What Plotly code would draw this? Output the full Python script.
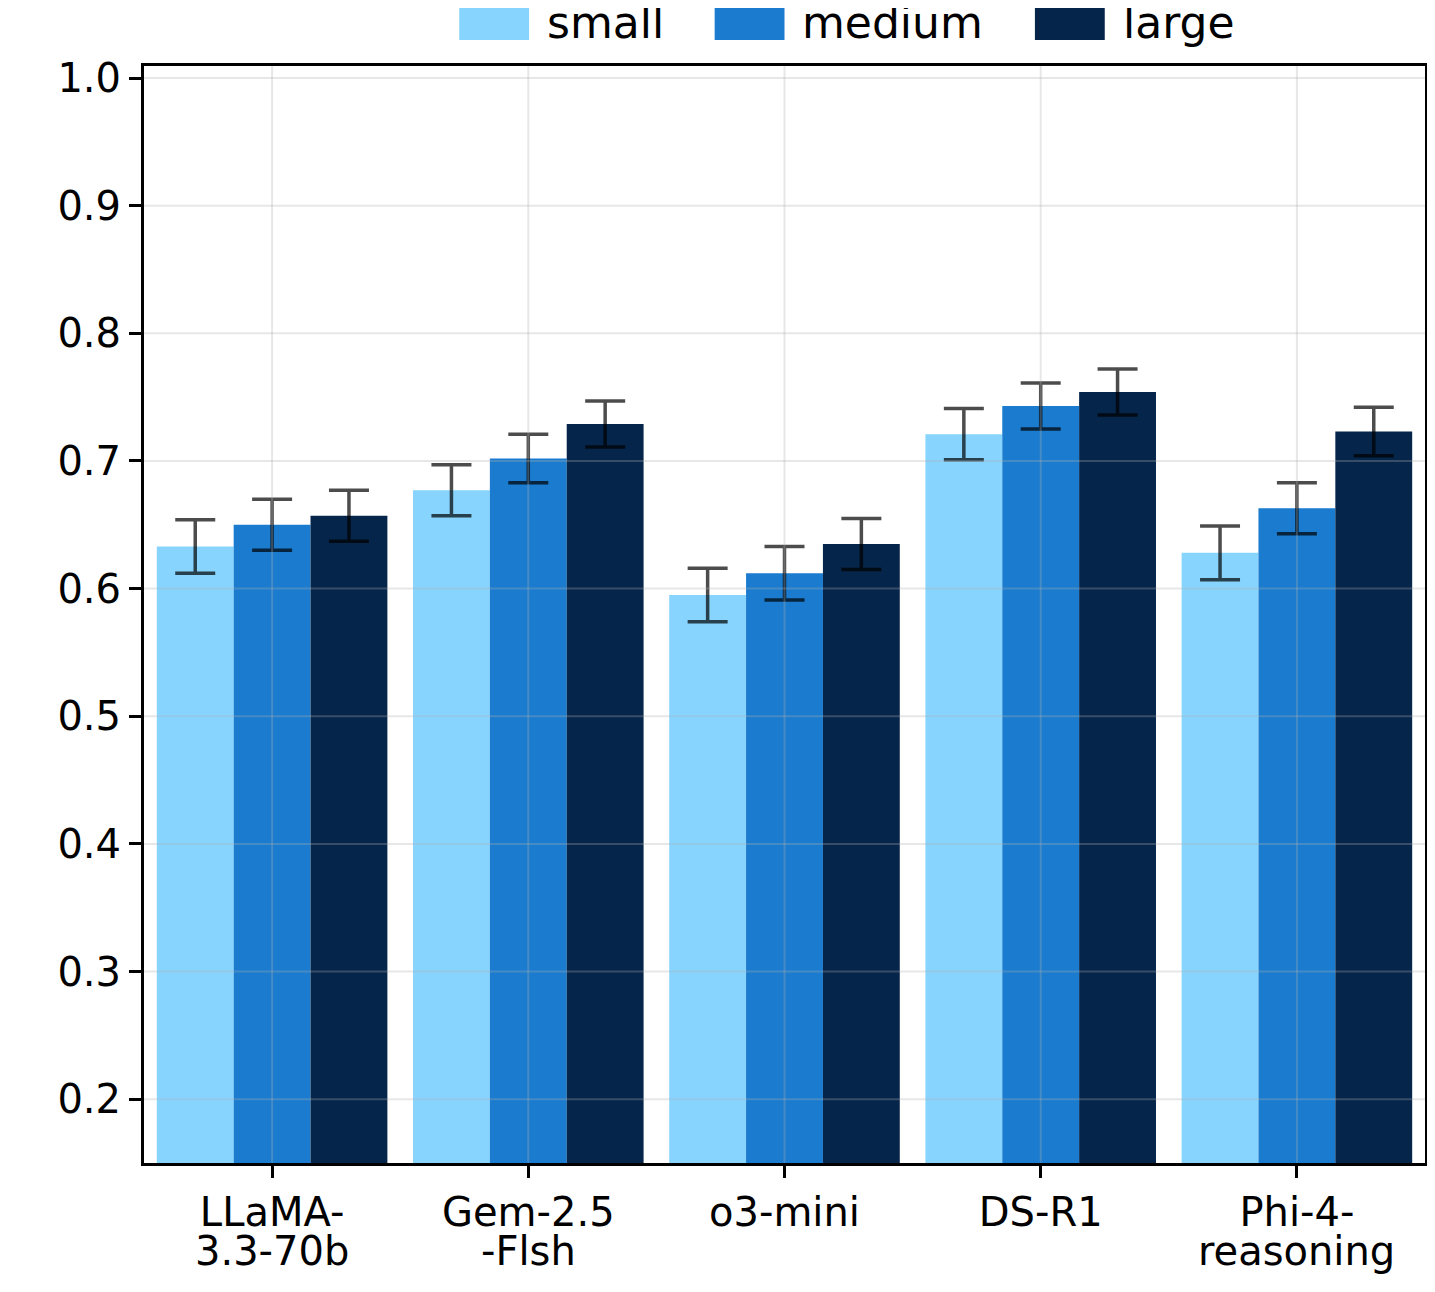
import plotly.graph_objects as go

# ---- data ----
categories = ["LLaMA-<br>3.3-70b", "Gem-2.5<br>-Flsh", "o3-mini", "DS-R1", "Phi-4-<br>reasoning"]
series_names = ["small", "medium", "large"]
small_vals = [0.633, 0.677, 0.595, 0.721, 0.628]
medium_vals = [0.650, 0.702, 0.612, 0.743, 0.663]
large_vals = [0.657, 0.729, 0.635, 0.754, 0.723]
small_err = [0.021, 0.020, 0.021, 0.020, 0.021]
medium_err = [0.020, 0.019, 0.021, 0.018, 0.020]
large_err = [0.020, 0.018, 0.020, 0.018, 0.019]
y_ticks = [0.2, 0.3, 0.4, 0.5, 0.6, 0.7, 0.8, 0.9, 1.0]

colors = ["#87D5FF", "#1A7BCF", "#05254A"]
values = [small_vals, medium_vals, large_vals]
errors = [small_err, medium_err, large_err]

# page offset (body margin) compensation
OFF = 8
W, H = 1435 - OFF, 1292 - OFF
L, R, T, B = 144, 1428, 66, 1163   # target plot-area pixel edges in the window
FONT = "DejaVu Sans"

def px_x(p):
    return (p - L) / (R - L)

def px_y(p):
    return (B - p) / (B - T)

fig = go.Figure()
xs = list(range(len(categories)))
for name, vals, errs, col in zip(series_names, values, errors, colors):
    fig.add_trace(go.Bar(
        x=xs, y=vals, name=name, marker=dict(color=col, line=dict(width=0)),
        error_y=dict(type="data", array=errs, visible=True,
                     color="rgba(0,0,0,0.7)", thickness=3.5, width=20),
        showlegend=False,
    ))

shapes = []
grid_col = "rgba(176,176,176,0.3)"
for i in xs:
    shapes.append(dict(type="line", xref="x", yref="paper", x0=i, x1=i, y0=0, y1=1,
                       line=dict(color=grid_col, width=2), layer="above"))
for v in y_ticks:
    shapes.append(dict(type="line", xref="paper", yref="y", x0=0, x1=1, y0=v, y1=v,
                       line=dict(color=grid_col, width=2), layer="above"))

annotations = []
# manual legend (large swatches)
legend_swatch_px = [460, 716, 1037]
for name, col, sx in zip(series_names, colors, legend_swatch_px):
    shapes.append(dict(type="rect", xref="paper", yref="paper",
                       x0=px_x(sx), x1=px_x(sx + 70), y0=px_y(40), y1=px_y(6),
                       fillcolor=col, line=dict(width=0), layer="above"))
    annotations.append(dict(text=name, xref="paper", yref="paper",
                            x=px_x(sx + 86), y=px_y(23), xanchor="left", yanchor="middle",
                            showarrow=False, font=dict(family=FONT, size=44, color="black")))

# tick labels: first line as tick text, second line as annotation (tighter line spacing)
first_lines = [c.split("<br>")[0] for c in categories]
for i, c in zip(xs, categories):
    parts = c.split("<br>")
    if len(parts) > 1:
        annotations.append(dict(text=parts[1], xref="x", yref="paper", x=i, y=px_y(1251),
                                xanchor="center", yanchor="middle", showarrow=False,
                                font=dict(family=FONT, size=40, color="black")))

fig.update_layout(
    width=W, height=H,
    margin=dict(l=L - OFF, r=W + OFF - R, t=T - OFF, b=H + OFF - B, pad=0),
    paper_bgcolor="white", plot_bgcolor="white",
    barmode="group", bargap=0.1, bargroupgap=0,
    font=dict(family=FONT, size=40, color="black"),
    shapes=shapes, annotations=annotations,
)
fig.update_xaxes(
    range=[-0.5, len(categories) - 0.5], tickmode="array", tickvals=xs, ticktext=first_lines,
    showgrid=False, showline=True, linecolor="black", linewidth=3, mirror=True,
    ticks="outside", ticklen=12, tickwidth=3, tickcolor="black",
    tickfont=dict(family=FONT, size=40), zeroline=False,
)
fig.update_yaxes(
    range=[0.15, 1.0094], tickmode="array", tickvals=y_ticks,
    ticktext=[f"{v:.1f}" for v in y_ticks],
    showgrid=False, showline=True, linecolor="black", linewidth=3, mirror=True,
    ticks="outside", ticklen=12, tickwidth=3, tickcolor="black",
    tickfont=dict(family=FONT, size=40), zeroline=False,
)

fig.write_html("out.html")
